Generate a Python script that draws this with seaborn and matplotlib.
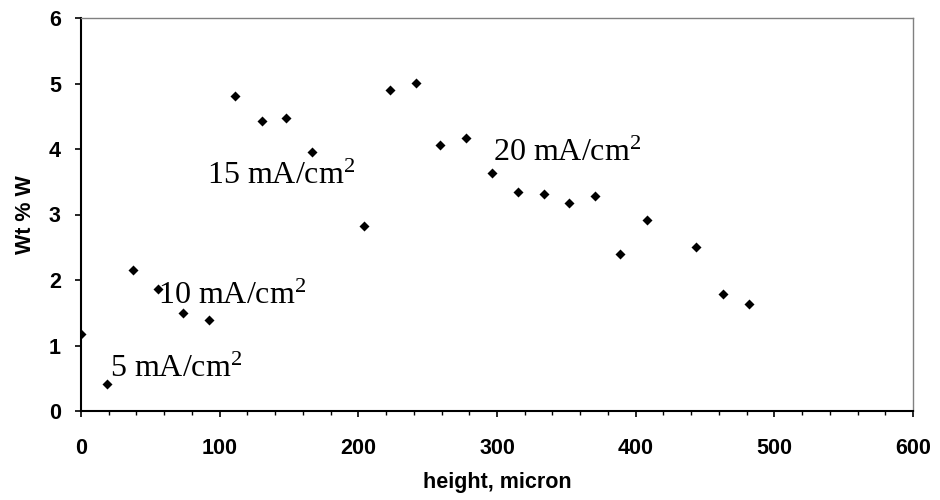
import matplotlib
matplotlib.use("Agg")
import matplotlib.pyplot as plt
from matplotlib.ticker import MultipleLocator
import pandas as pd
import seaborn as sns

# Tungsten content along the deposit height
height_um = [0, 18.5, 37.5, 55.5, 73.8, 92.5, 111.3, 130.3, 147.8, 166.6,
             204, 222.6, 241.4, 259.1, 277.9, 296.4, 315.4, 334.1, 351.7,
             370.4, 388.7, 408.4, 443.5, 463.2, 481.7]
wt_pct_w = [1.17, 0.41, 2.16, 1.86, 1.50, 1.39, 4.81, 4.43, 4.47, 3.95,
            2.82, 4.90, 5.01, 4.06, 4.17, 3.64, 3.35, 3.31, 3.18,
            3.29, 2.40, 2.92, 2.50, 1.79, 1.64]

# Current density labels (text, x, y)
zone_labels = ["5 mA/cm$^{2}$", "10 mA/cm$^{2}$", "15 mA/cm$^{2}$", "20 mA/cm$^{2}$"]
zone_x = [20.9, 55.7, 91.1, 297.4]
zone_y = [0.52, 1.63, 3.46, 3.81]

df = pd.DataFrame({"height": height_um, "wt": wt_pct_w})

sns.set_theme(style="white")
plt.rcParams["font.family"] = ["Liberation Sans", "DejaVu Sans"]
plt.rcParams["mathtext.fontset"] = "custom"
plt.rcParams["mathtext.rm"] = "Liberation Serif"
plt.rcParams["mathtext.it"] = "Liberation Serif"
plt.rcParams["mathtext.bf"] = "Liberation Serif"

fig = plt.figure(figsize=(9.4, 5.0), dpi=100)
ax = fig.add_axes([81 / 940, 1 - 411 / 500, (913 - 81) / 940, (411 - 18) / 500])

sns.scatterplot(data=df, x="height", y="wt", marker="D", s=26,
                color="black", linewidth=0, ax=ax, zorder=3)

ax.set_xlim(0, 600)
ax.set_ylim(0, 6)
ax.xaxis.set_major_locator(MultipleLocator(100))
ax.xaxis.set_minor_locator(MultipleLocator(20))
ax.yaxis.set_major_locator(MultipleLocator(1))

for side in ("left", "bottom"):
    ax.spines[side].set_color("black")
    ax.spines[side].set_linewidth(1.5)
for side in ("top", "right"):
    ax.spines[side].set_color("#808080")
    ax.spines[side].set_linewidth(1.0)

ax.tick_params(axis="x", which="major", direction="out", length=4.5, width=1.2,
               color="black", bottom=True, pad=15, labelsize=15.5)
ax.tick_params(axis="x", which="minor", direction="out", length=3, width=1.0,
               color="black", bottom=True)
ax.tick_params(axis="y", which="major", direction="out", length=4.5, width=1.2,
               color="black", left=True, pad=10, labelsize=15.5)
for lab in ax.get_xticklabels() + ax.get_yticklabels():
    lab.set_fontweight("bold")
    lab.set_color("black")

ax.set_xlabel("height, micron", fontsize=15.5, fontweight="bold", labelpad=9, color="black")
ax.set_ylabel("Wt % W", fontsize=15.5, fontweight="bold", labelpad=9, color="black")

for txt, x, y in zip(zone_labels, zone_x, zone_y):
    ax.text(x, y, txt, fontsize=23, family="Liberation Serif", color="black",
            ha="left", va="baseline", zorder=4)

fig.savefig("out.png", dpi=100, facecolor="white")
